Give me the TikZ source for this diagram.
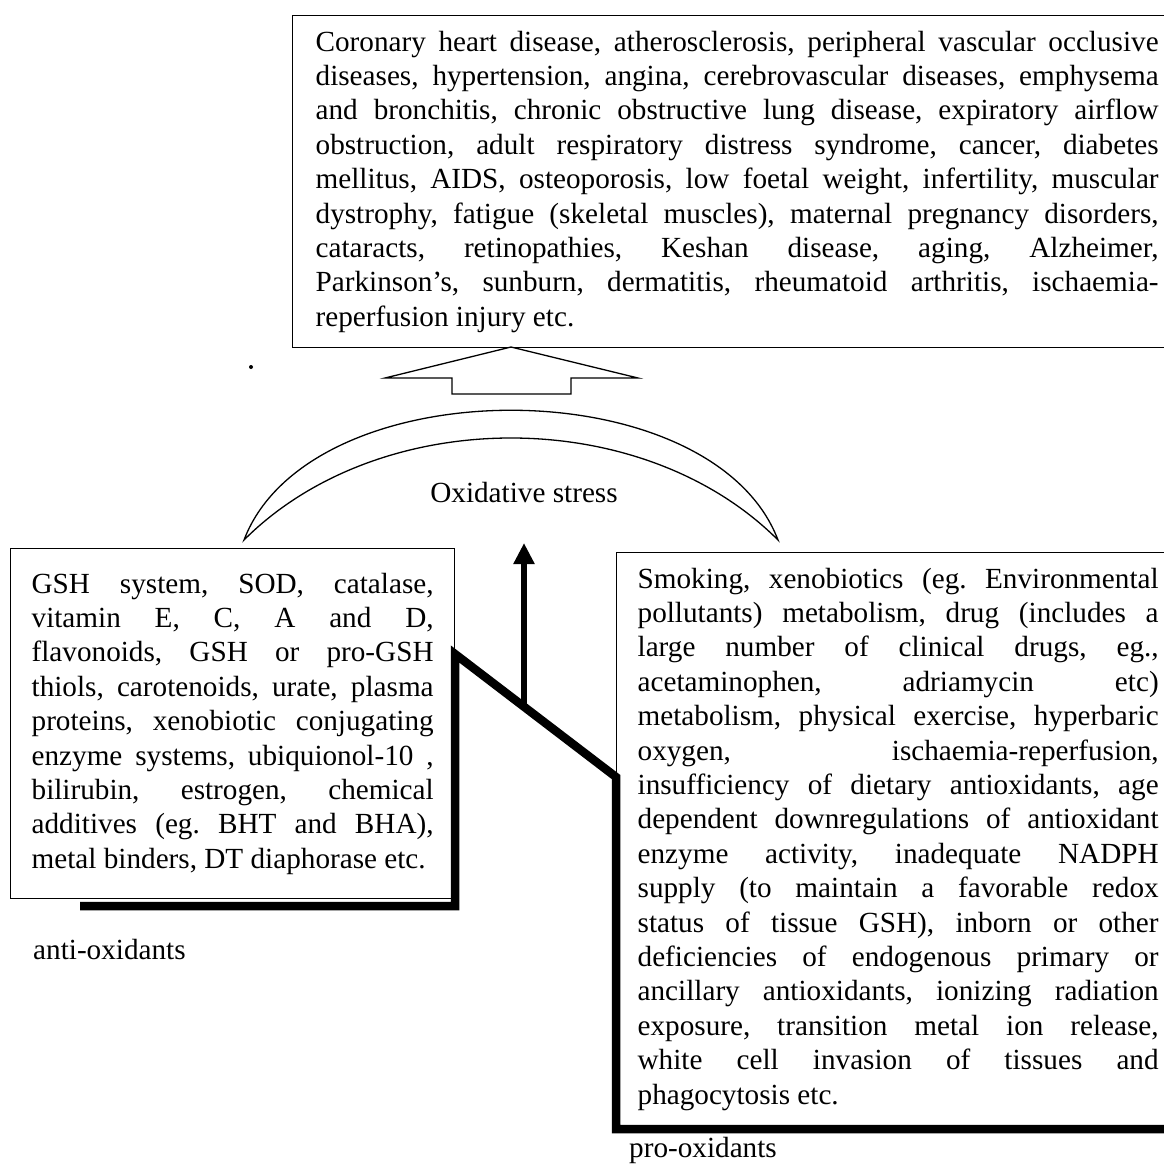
\documentclass[tikz,border=0pt]{standalone}
\usepackage{fontspec}
\setmainfont{Liberation Serif}
\usepackage{tikz}
\usetikzlibrary{arrows.meta,positioning}
\frenchspacing

\begin{document}
\begin{tikzpicture}[
font=\fontsize{29.2}{34.4}\selectfont,
x=1pt,y=-1pt,
txtbox/.style={draw, line width=1.3pt, rectangle, anchor=north west, align=justify, inner xsep=21pt, inner ysep=0pt, fill=white},
lbl/.style={anchor=west, inner sep=0pt},
lever/.style={line width=8.5pt, line join=miter},
push/.style={-{Triangle[length=21pt,width=20pt]}, line width=6.5pt},
bow/.style={draw, line width=1.3pt, fill=white},
block/.style={draw, line width=1.3pt, line join=miter}
]
\useasboundingbox (0,0) rectangle (1164,1164);
\clip (0,0) rectangle (1164,1164);
\node[txtbox, text width=843pt, inner xsep=23pt, minimum height=332pt] (ills) at (292,15) {Coronary heart disease, atherosclerosis, peripheral vascular occlusive\linebreak
diseases, hypertension, angina, cerebrovascular diseases, emphysema\linebreak
and bronchitis, chronic obstructive lung disease, expiratory airflow\linebreak
obstruction, adult respiratory distress syndrome, cancer, diabetes\linebreak
mellitus, AIDS, osteoporosis, low foetal weight, infertility, muscular\linebreak
dystrophy, fatigue (skeletal muscles), maternal pregnancy disorders,\linebreak
cataracts, retinopathies, Keshan disease, aging, Alzheimer,\linebreak
Parkinson's, sunburn, dermatitis, rheumatoid arthritis, ischaemia-\linebreak
reperfusion injury etc.};
\node[txtbox, text width=402pt, minimum height=350pt] (anti) at (10,548) {GSH system, SOD, catalase,\linebreak
vitamin E, C, A and D,\linebreak
flavonoids, GSH or pro-GSH\linebreak
thiols, carotenoids, urate, plasma\linebreak
proteins, xenobiotic conjugating\linebreak
enzyme systems, ubiquionol-10 ,\linebreak
bilirubin, estrogen, chemical\linebreak
additives (eg. BHT and BHA),\linebreak
metal binders, DT diaphorase etc.};
\node[txtbox, text width=521pt, minimum height=573pt] (pro) at (616,552) {Smoking, xenobiotics (eg. Environmental\linebreak
pollutants) metabolism, drug (includes a\linebreak
large number of clinical drugs, eg.,\linebreak
acetaminophen, adriamycin etc)\linebreak
metabolism, physical exercise, hyperbaric\linebreak
oxygen, ischaemia-reperfusion,\linebreak
insufficiency of dietary antioxidants, age\linebreak
dependent downregulations of antioxidant\linebreak
enzyme activity, inadequate NADPH\linebreak
supply (to maintain a favorable redox\linebreak
status of tissue GSH), inborn or other\linebreak
deficiencies of endogenous primary or\linebreak
ancillary antioxidants, ionizing radiation\linebreak
exposure, transition metal ion release,\linebreak
white cell invasion of tissues and\linebreak
phagocytosis etc.};
\node[lbl] (antilbl) at (33,950) {anti-oxidants};
\node[lbl] (prolbl) at (629,1150) {pro-oxidants};
\node (stress) at (524,493) {Oxidative stress};
% balance under the two boxes
\coordinate (antiend) at (80,906);
\coordinate (leverL) at (455,654);
\coordinate (leverR) at (616,777);
\coordinate (proend) at (1175,1129);
\coordinate (fulcrum) at (524,706);
\coordinate (stressin) at (524,543);
\draw[lever] (antiend) -| (leverL) -- (leverR) |- (proend);
\draw[push] (fulcrum) -- (stressin);
% crescent
\draw[bow] (244,540) .. controls (310,367) and (712,367) .. (778,540) .. controls (642,404) and (380,404) .. cycle;
\draw[block] (511,347) -- (638,378) -- (571,378) -- (571,394) -- (452,394) -- (452,378) -- (385,378) -- cycle;
\fill (251,367) circle (2);
\end{tikzpicture}
\end{document}
